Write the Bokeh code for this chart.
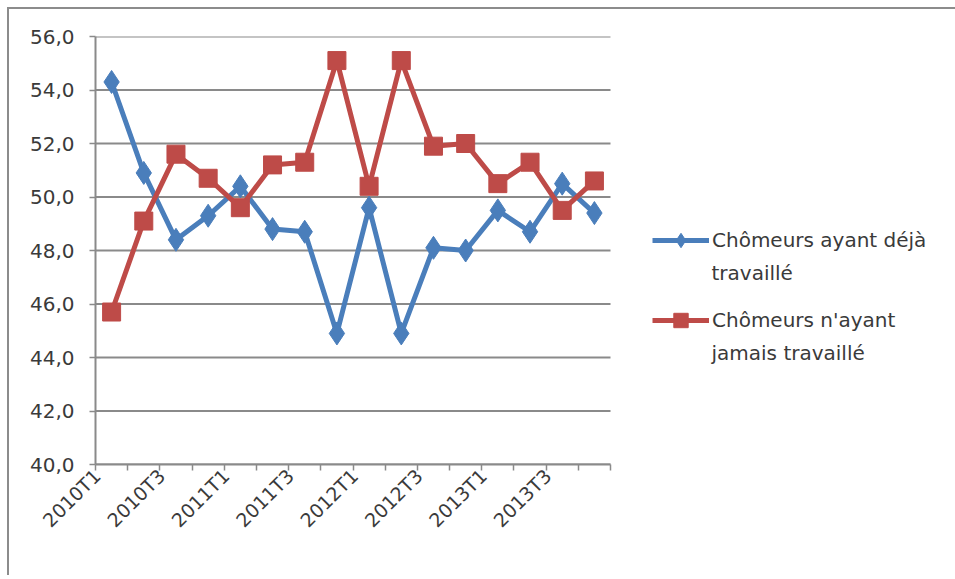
from bokeh.plotting import figure
from bokeh.layouts import column
from bokeh.models import FixedTicker, Legend, LegendItem, Range1d, Label
from bokeh.embed import file_html
from bokeh.resources import INLINE

# Part des chômeurs selon qu'ils aient déjà travaillé ou non (%)
quarters = ["2010T1", "2010T2", "2010T3", "2010T4",
            "2011T1", "2011T2", "2011T3", "2011T4",
            "2012T1", "2012T2", "2012T3", "2012T4",
            "2013T1", "2013T2", "2013T3", "2013T4"]
deja_travaille = [54.3, 50.9, 48.4, 49.3, 50.4, 48.8, 48.7, 44.9,
                  49.6, 44.9, 48.1, 48.0, 49.5, 48.7, 50.5, 49.4]
jamais_travaille = [45.7, 49.1, 51.6, 50.7, 49.6, 51.2, 51.3, 55.1,
                    50.4, 55.1, 51.9, 52.0, 50.5, 51.3, 49.5, 50.6]
series_names = [("Chômeurs ayant déjà", "travaillé"),
                ("Chômeurs n'ayant", "jamais travaillé")]
y_ticks = [40, 42, 44, 46, 48, 50, 52, 54, 56]

BLUE = "#4a7ebb"
RED = "#be4b48"
GRID = "#8a8a8a"
TEXT = "#3a3a3a"
FONT = "DejaVu Sans"

# layout: the frame spans to the right edge so the legend sits inside it;
# the data only uses the first PLOT_W pixels
WIDTH, HEIGHT = 946, 566
LEFT, TOP, BOTTOM = 86, 27, 111
PLOT_W = 515
FRAME_W = WIDTH - LEFT

n = len(quarters)
xs = [i + 0.5 for i in range(n)]

p = figure(width=WIDTH, height=HEIGHT,
           output_backend="svg", toolbar_location=None,
           x_range=Range1d(0, n * FRAME_W / PLOT_W), y_range=Range1d(40, 56),
           min_border_left=LEFT, min_border_right=0,
           min_border_top=TOP, min_border_bottom=BOTTOM)
p.outline_line_color = None
p.background_fill_color = "white"
p.border_fill_color = "white"
p.xgrid.grid_line_color = None
p.ygrid.grid_line_color = None

# horizontal gridlines across the data area only
p.segment(x0=[0] * len(y_ticks), x1=[n] * len(y_ticks), y0=y_ticks, y1=y_ticks,
          line_color=GRID, line_width=2)

# x axis: tick marks between quarters, labels every other quarter
label_pos = [x - 0.45 for x in xs[::2]]
p.xaxis.bounds = (0, n)
p.xaxis.ticker = FixedTicker(ticks=label_pos, minor_ticks=list(range(n + 1)))
p.xaxis.major_label_overrides = {x: quarters[i * 2] for i, x in enumerate(label_pos)}
p.xaxis.major_tick_line_color = None
p.xaxis.minor_tick_in = 0
p.xaxis.minor_tick_out = 6
p.xaxis.minor_tick_line_color = GRID
p.xaxis.minor_tick_line_width = 1.5
p.xaxis.axis_line_color = GRID
p.xaxis.axis_line_width = 2
p.xaxis.major_label_orientation = 0.785398
p.xaxis.major_label_text_font = FONT
p.xaxis.major_label_text_font_size = "19px"
p.xaxis.major_label_text_color = TEXT
p.xaxis.major_label_standoff = 2

# y axis
p.yaxis.ticker = FixedTicker(ticks=y_ticks, minor_ticks=[])
p.yaxis.major_label_overrides = {v: f"{v},0" for v in y_ticks}
p.yaxis.major_tick_in = 0
p.yaxis.major_tick_out = 6
p.yaxis.major_tick_line_color = GRID
p.yaxis.major_tick_line_width = 1.5
p.yaxis.axis_line_color = GRID
p.yaxis.axis_line_width = 2
p.yaxis.major_label_text_font = FONT
p.yaxis.major_label_text_font_size = "20px"
p.yaxis.major_label_text_color = TEXT
p.yaxis.major_label_standoff = 15

l1 = p.line(xs, deja_travaille, line_color=BLUE, line_width=5)
m1 = p.scatter(xs, deja_travaille, marker="diamond", size=23,
               fill_color=BLUE, line_color=BLUE)
l2 = p.line(xs, jamais_travaille, line_color=RED, line_width=5)
m2 = p.scatter(xs, jamais_travaille, marker="square", size=18,
               fill_color=RED, line_color=RED)

legend = Legend(items=[LegendItem(label=series_names[0][0], renderers=[l1, m1]),
                       LegendItem(label=series_names[1][0], renderers=[l2, m2])],
                location=(557, 126), orientation="vertical",
                glyph_width=57, glyph_height=36, label_height=20,
                label_standoff=3, spacing=44, padding=0, margin=0,
                border_line_color=None, background_fill_alpha=0,
                label_text_font=FONT, label_text_font_size="20px",
                label_text_color=TEXT)
p.add_layout(legend, "center")

# second text line of each legend entry
for (first, second), y in zip(series_names, [192, 112]):
    p.add_layout(Label(x=616, y=y, x_units="screen", y_units="screen",
                       text=second, text_font=FONT, text_font_size="20px",
                       text_color=TEXT, text_baseline="middle"))

# chart area frame (top and left edges)
page = column(p, margin=(7, 0, 0, 7),
              styles={"border-top": "2px solid #8c8c8c",
                      "border-left": "2px solid #8c8c8c"})

open("out.html", "w").write(file_html(page, INLINE))
